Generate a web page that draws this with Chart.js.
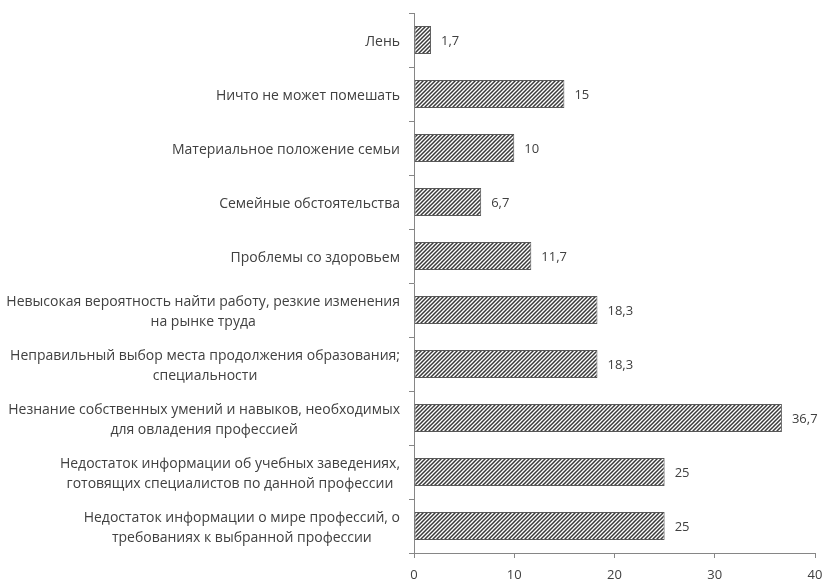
<!DOCTYPE html>
<html>
<head>
<meta charset="utf-8">
<script src="https://cdn.jsdelivr.net/npm/chart.js@4.4.1/dist/chart.umd.min.js"></script>
<style>
  body { margin: 0; background: #fff; }
  #wrap { width: 824px; height: 587px; }
</style>
</head>
<body>
<div id="wrap"><canvas id="reasonsChart" width="824" height="587"></canvas></div>
<script>
// категории сверху вниз
var categories = [
    ['Лень'],
    ['Ничто не может помешать'],
    ['Материальное положение семьи'],
    ['Семейные обстоятельства'],
    ['Проблемы со здоровьем'],
    ['Невысокая вероятность найти работу, резкие изменения', 'на рынке труда'],
    ['Неправильный выбор места продолжения образования;', 'специальности'],
    ['Незнание собственных умений и навыков, необходимых', 'для овладения профессией'],
    ['Недостаток информации об учебных заведениях,', 'готовящих специалистов по данной профессии'],
    ['Недостаток информации о мире профессий, о', 'требованиях к выбранной профессии']
];
var values = [1.7, 15, 10, 6.7, 11.7, 18.3, 18.3, 36.7, 25, 25];
var xTicks = [0, 10, 20, 30, 40];

var textColor = '#404040';
var axisColor = '#868686';
var fontFamily = '"Open Sans", "Noto Sans", sans-serif';

var ctx = document.getElementById('reasonsChart').getContext('2d');

function makeHatch(){
    var c = document.createElement('canvas');
    c.width = 4; c.height = 4;
    var g = c.getContext('2d');
    g.fillStyle = '#ffffff';
    g.fillRect(0, 0, 4, 4);
    g.strokeStyle = '#3a3a3a';
    g.lineWidth = 1.5;
    g.beginPath();
    g.moveTo(0, 4); g.lineTo(4, 0);
    g.moveTo(-1, 1); g.lineTo(1, -1);
    g.moveTo(3, 5); g.lineTo(5, 3);
    g.stroke();
    return ctx.createPattern(c, 'repeat');
}

// подписи значений справа от столбиков
var valueLabels = {
    id: 'valueLabels',
    afterDatasetsDraw: function(chart){
        var c = chart.ctx;
        var meta = chart.getDatasetMeta(0);
        c.save();
        c.font = '13px ' + fontFamily;
        c.fillStyle = textColor;
        c.textAlign = 'left';
        c.textBaseline = 'middle';
        meta.data.forEach(function(bar, i){
            var txt = String(values[i]).replace('.', ',');
            c.fillText(txt, bar.x + 10, bar.y + 1);
        });
        c.restore();
    }
};

// подписи категорий: строки центрированы между собой, блок прижат вправо
var categoryLabels = {
    id: 'categoryLabels',
    afterDraw: function(chart){
        var c = chart.ctx;
        var yScale = chart.scales.y;
        var rightEdge = 400;
        var lh = 20;
        c.save();
        c.font = '14px ' + fontFamily;
        c.fillStyle = textColor;
        c.textAlign = 'center';
        c.textBaseline = 'middle';
        categories.forEach(function(lines, i){
            var w = 0;
            lines.forEach(function(l){ w = Math.max(w, c.measureText(l).width); });
            var cx = rightEdge - w / 2;
            var y = yScale.getPixelForTick(i) + 2;
            var y0 = y - (lines.length - 1) * lh / 2;
            lines.forEach(function(l, k){
                c.fillText(l, cx, y0 + k * lh);
            });
        });
        c.restore();
    }
};

var chart = new Chart(ctx, {
    type: 'bar',
    data: {
        labels: categories,
        datasets: [{
            data: values,
            backgroundColor: makeHatch(),
            borderColor: '#595959',
            borderWidth: 1,
            borderSkipped: false,
            barPercentage: 0.52,
            categoryPercentage: 1
        }]
    },
    options: {
        indexAxis: 'y',
        responsive: false,
        animation: false,
        layout: { padding: { top: 13, right: 9, left: 0, bottom: 0 } },
        plugins: {
            legend: { display: false },
            tooltip: { enabled: false }
        },
        scales: {
            x: {
                min: 0,
                max: 40,
                afterBuildTicks: function(scale){
                    scale.ticks = xTicks.map(function(v){ return { value: v }; });
                },
                afterFit: function(scale){
                    scale.height = 34;
                    scale.paddingLeft = 0;
                    scale.paddingRight = 0;
                },
                grid: {
                    drawOnChartArea: false,
                    drawTicks: true,
                    tickLength: 5,
                    color: axisColor
                },
                border: { color: axisColor },
                ticks: {
                    color: textColor,
                    font: { family: fontFamily, size: 13 },
                    padding: 9
                }
            },
            y: {
                offset: true,
                afterFit: function(scale){ scale.width = 414; },
                grid: {
                    offset: true,
                    drawOnChartArea: false,
                    drawTicks: true,
                    tickLength: 5,
                    color: axisColor
                },
                border: { color: axisColor },
                ticks: { display: false }
            }
        }
    },
    plugins: [valueLabels, categoryLabels]
});
</script>
</body>
</html>
